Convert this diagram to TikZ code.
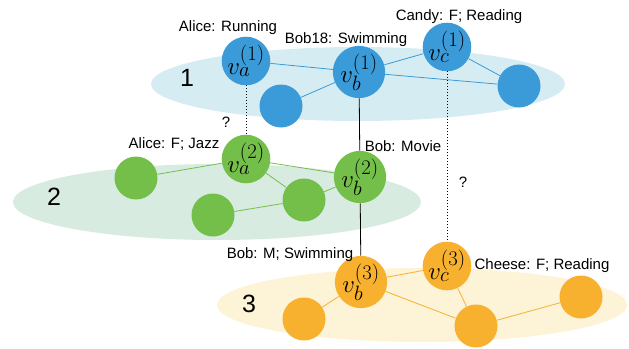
\documentclass[tikz,border=0pt]{standalone}
\usepackage[no-math]{fontspec}
\setmainfont{Liberation Sans}
\definecolor{blueN}{HTML}{3A9BD8}
\definecolor{blueL}{HTML}{D5EDF2}
\definecolor{greenN}{HTML}{74BF4A}
\definecolor{greenL}{HTML}{D8EBE0}
\definecolor{orangeN}{HTML}{F8B12E}
\definecolor{orangeL}{HTML}{FDF3D6}
\tikzset{
  vtx/.style={circle,inner sep=0pt,minimum size=43pt,font=\fontsize{29}{31}\selectfont},
  lbl/.style={anchor=base,font=\fontsize{15}{17}\selectfont},
  num/.style={anchor=base,font=\fontsize{25}{27}\selectfont}
}
\begin{document}
\begin{tikzpicture}[x=1pt,y=-1pt]
  \useasboundingbox (0,0) rectangle (629,348);
  \fill[blueL] (358,84) ellipse [x radius=207,y radius=37];
  \fill[greenL] (217,202) ellipse [x radius=204,y radius=38];
  \fill[orangeL] (422,305) ellipse [x radius=205,y radius=37];
  \node[num] (n1) at (187,86) {1};
  \node[num] (n2) at (54,205) {2};
  \node[num] (n3) at (249,312) {3};

  % layer 1
  \node[vtx,fill=blueN] (va1) at (246,61) {$v_a^{(1)}$};
  \node[vtx,fill=blueN] (vb1) at (359,72) {$v_b^{(1)}$};
  \node[vtx,fill=blueN] (vc1) at (447,47) {$v_c^{(1)}$};
  \node[vtx,fill=blueN] (b4) at (519,86) {};
  \node[vtx,fill=blueN] (b5) at (281,106) {};
  \foreach \s/\t in {va1/vb1,vb1/vc1,vb1/b4,vc1/b4,vb1/b5}
    \draw[blueN,line width=0.8pt] (\s) -- (\t);

  % layer 2
  \node[vtx,fill=greenN] (va2) at (246,159) {$v_a^{(2)}$};
  \node[vtx,fill=greenN] (vb2) at (360,177) {$v_b^{(2)}$};
  \node[vtx,fill=greenN] (g3) at (136,178) {};
  \node[vtx,fill=greenN] (g4) at (304,200) {};
  \node[vtx,fill=greenN] (g5) at (213,215) {};
  \foreach \s/\t in {g3/va2,va2/vb2,va2/g4,g4/vb2,g5/g4}
    \draw[greenN,line width=0.8pt] (\s) -- (\t);

  % layer 3
  \node[vtx,fill=orangeN] (vb3) at (361,282) {$v_b^{(3)}$};
  \node[vtx,fill=orangeN] (vc3) at (447,266) {$v_c^{(3)}$};
  \node[vtx,fill=orangeN] (o3) at (304,319) {};
  \node[vtx,fill=orangeN] (o4) at (476,326) {};
  \node[vtx,fill=orangeN] (o5) at (581,297) {};
  \foreach \s/\t in {o3/vb3,vb3/vc3,vb3/o4,vc3/o4,o4/o5}
    \draw[orangeN,line width=0.8pt] (\s) -- (\t);

  % links between layers
  \draw[dotted,line width=1pt] (va1) -- (va2);
  \draw[dotted,line width=1pt] (vc1) -- (vc3);
  \draw[line width=0.8pt] (vb1) -- (vb2) -- (vb3);

  \node[lbl] (la1) at (228,31) {Alice: Running};
  \node[lbl] (lb1) at (346,43) {Bob18: Swimming};
  \node[lbl] (lc1) at (459,20) {Candy: F; Reading};
  \node[lbl] (la2) at (174,148) {Alice: F; Jazz};
  \node[lbl] (lb2) at (403,151.5) {Bob: Movie};
  \node[lbl] (lb3) at (290,258) {Bob: M; Swimming};
  \node[lbl] (lc3) at (542,269) {Cheese: F; Reading};
  \node[lbl] (q1) at (226,127) {?};
  \node[lbl] (q2) at (463,187) {?};
\end{tikzpicture}
\end{document}
